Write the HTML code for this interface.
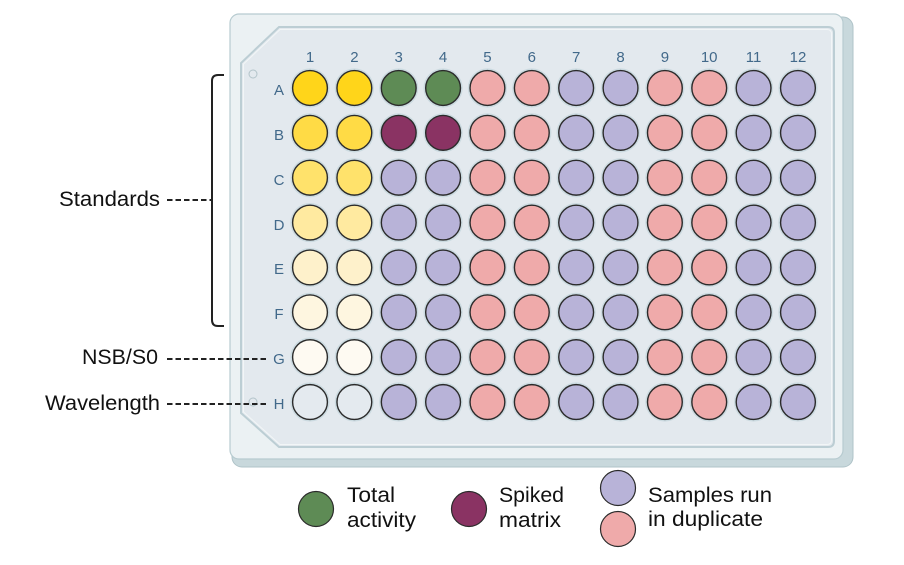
<!DOCTYPE html>
<html>
<head>
<meta charset="utf-8">
<style>
  html,body{margin:0;padding:0;background:#fff;}
  svg{display:block;}
  text{font-family:"Liberation Sans", sans-serif;}
</style>
</head>
<body>
<svg width="904" height="565" viewBox="0 0 904 565" xmlns="http://www.w3.org/2000/svg">
  <!-- plate side / thickness -->
  <rect x="232" y="17" width="621" height="450" rx="10" fill="#C8D8DC" stroke="#AFC3C8" stroke-width="1"/>
  <!-- plate front face -->
  <rect x="230" y="14" width="613" height="445" rx="9" fill="#EBF1F3" stroke="#B7CBD0" stroke-width="1.2"/>
  <!-- inner panel -->
  <path d="M279 27 L828 27 Q834 27 834 33 L834 441 Q834 447 828 447 L279 447 L241 413 L241 63 Z" fill="#E3E9EE" stroke="#BCCED4" stroke-width="2"/>
  <path d="M280 29.5 L827 29.5 Q831.5 29.5 831.5 34 L831.5 440 Q831.5 444.5 827 444.5 L280 444.5 L243.5 412 L243.5 64 Z" fill="none" stroke="#F2F6F7" stroke-width="1"/>

  <!-- small circles -->
  <circle cx="253" cy="74" r="4" fill="none" stroke="#B3C4CA" stroke-width="1"/>
  <circle cx="253" cy="402" r="4" fill="none" stroke="#B3C4CA" stroke-width="1"/>

  <!-- column labels -->
  <g fill="#42698A" font-size="15" text-anchor="middle">
    <text x="310" y="62">1</text>
    <text x="354.4" y="62">2</text>
    <text x="398.7" y="62">3</text>
    <text x="443.1" y="62">4</text>
    <text x="487.4" y="62">5</text>
    <text x="531.8" y="62">6</text>
    <text x="576.2" y="62">7</text>
    <text x="620.5" y="62">8</text>
    <text x="664.9" y="62">9</text>
    <text x="709.2" y="62">10</text>
    <text x="753.6" y="62">11</text>
    <text x="798" y="62">12</text>
  </g>
  <!-- row labels -->
  <g fill="#42698A" font-size="15" text-anchor="middle">
    <text x="279" y="95">A</text>
    <text x="279" y="140">B</text>
    <text x="279" y="185">C</text>
    <text x="279" y="230">D</text>
    <text x="279" y="274">E</text>
    <text x="279" y="319">F</text>
    <text x="279" y="364">G</text>
    <text x="279" y="409">H</text>
  </g>

  <!-- wells -->
  <g id="wells"></g>

  <!-- bracket -->
  <path d="M224 75 L218 75 Q212 75 212 81 L212 320 Q212 326 218 326 L224 326" fill="none" stroke="#222" stroke-width="2"/>

  <!-- dashed leader lines -->
  <g stroke="#222" stroke-width="2" stroke-dasharray="5.5 3" fill="none">
    <line x1="167" y1="200" x2="211" y2="200"/>
    <line x1="167" y1="359" x2="266" y2="359"/>
    <line x1="167" y1="404" x2="266" y2="404"/>
  </g>

  <!-- left labels -->
  <g fill="#111" font-size="21">
    <text x="59" y="206" textLength="101" lengthAdjust="spacingAndGlyphs">Standards</text>
    <text x="82" y="364" textLength="76" lengthAdjust="spacingAndGlyphs">NSB/S0</text>
    <text x="45" y="410" textLength="115" lengthAdjust="spacingAndGlyphs">Wavelength</text>
  </g>

  <!-- legend -->
  <circle cx="316" cy="509" r="17.5" fill="#5E8B55" stroke="#2b2b2b" stroke-width="1.2"/>
  <circle cx="469" cy="509" r="17.5" fill="#8A3363" stroke="#2b2b2b" stroke-width="1.2"/>
  <circle cx="618" cy="488" r="17.5" fill="#B8B3D8" stroke="#2b2b2b" stroke-width="1.2"/>
  <circle cx="618" cy="529" r="17.5" fill="#EFAAAA" stroke="#2b2b2b" stroke-width="1.2"/>
  <g fill="#111" font-size="21">
    <text x="347" y="502" textLength="48" lengthAdjust="spacingAndGlyphs">Total</text>
    <text x="347" y="527" textLength="69" lengthAdjust="spacingAndGlyphs">activity</text>
    <text x="499" y="502" textLength="65" lengthAdjust="spacingAndGlyphs">Spiked</text>
    <text x="499" y="527" textLength="62" lengthAdjust="spacingAndGlyphs">matrix</text>
    <text x="648" y="502" textLength="124" lengthAdjust="spacingAndGlyphs">Samples run</text>
    <text x="648" y="526" textLength="115" lengthAdjust="spacingAndGlyphs">in duplicate</text>
  </g>
</svg>
<script>
(function(){
  var ns="http://www.w3.org/2000/svg";
  var g=document.getElementById("wells");
  var yellows=["#FFD51A","#FFDB45","#FFE26B","#FFEAA0","#FEF1CB","#FEF6E0","#FEFAF2","#E4EAEF"];
  var purple="#B8B3D8", pink="#EFAAAA", green="#5E8B55", maroon="#8A3363";
  for(var r=0;r<8;r++){
    for(var c=0;c<12;c++){
      var cx=310+c*44.36, cy=88+r*44.86, col;
      if(c<2) col=yellows[r];
      else if(c<4) col=(r==0?green:(r==1?maroon:purple));
      else if(c<6) col=pink;
      else if(c<8) col=purple;
      else if(c<10) col=pink;
      else col=purple;
      var h=document.createElementNS(ns,"circle");
      h.setAttribute("cx",cx);h.setAttribute("cy",cy);h.setAttribute("r",19.6);
      h.setAttribute("fill","#CBDAE0");
      g.appendChild(h);
      var w=document.createElementNS(ns,"circle");
      w.setAttribute("cx",cx);w.setAttribute("cy",cy);w.setAttribute("r",17.4);
      w.setAttribute("fill",col);w.setAttribute("stroke","#2b2b2b");w.setAttribute("stroke-width","1.4");
      g.appendChild(w);
    }
  }
})();
</script>
</body>
</html>
